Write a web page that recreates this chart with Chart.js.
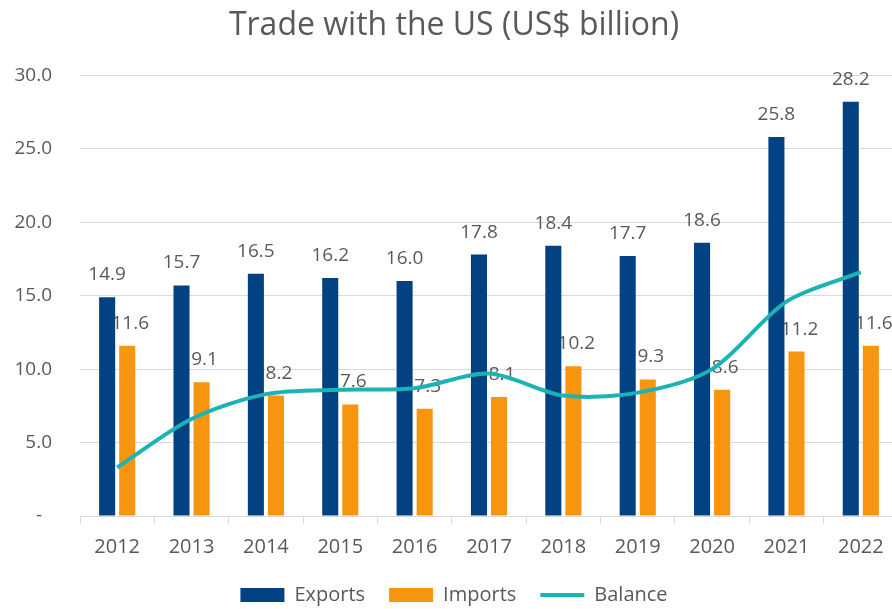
<!DOCTYPE html>
<html>
<head>
  <meta charset="utf-8">
  <title>Trade with the US</title>
  <script src="https://cdn.jsdelivr.net/npm/chart.js@4.4.1/dist/chart.umd.min.js"></script>
  <style>
    body { margin: 0; overflow: hidden; background: #fff; }
    #wrap { width: 898px; height: 609px; }
  </style>
</head>
<body>
  <div id="wrap"><canvas id="chart"></canvas></div>
  <script>
    // data
    var YEARS = ['2012', '2013', '2014', '2015', '2016', '2017', '2018', '2019', '2020', '2021', '2022'];
    var EXPORTS = [14.9, 15.7, 16.5, 16.2, 16.0, 17.8, 18.4, 17.7, 18.6, 25.8, 28.2];
    var IMPORTS = [11.6, 9.1, 8.2, 7.6, 7.3, 8.1, 10.2, 9.3, 8.6, 11.2, 11.6];
    var BALANCE = [3.3, 6.6, 8.3, 8.6, 8.7, 9.7, 8.2, 8.4, 10.0, 14.6, 16.6];

    var TEXT = '#595959',
        GRID = '#d9d9d9',
        FONT = '"Open Sans", "Noto Sans", sans-serif';

    // value labels above the bars, drawn under the marks
    var barLabels = {
      id: 'barLabels',
      beforeDatasetsDraw: function(chart) {
        var ctx = chart.ctx;
        ctx.save();
        ctx.font = '19px ' + FONT;
        ctx.fillStyle = TEXT;
        ctx.textAlign = 'center';
        ctx.textBaseline = 'alphabetic';
        chart.data.datasets.forEach(function(ds, i) {
          if (ds.type === 'line') return;
          var dx = i === 1 ? 3 : 0;
          chart.getDatasetMeta(i).data.forEach(function(bar, j) {
            ctx.fillText(ds.data[j].toFixed(1), bar.x + dx, bar.y - 17);
          });
        });
        ctx.restore();
      }
    };

    new Chart(document.getElementById('chart'), {
      type: 'bar',
      data: {
        labels: YEARS,
        datasets: [
          { label: 'Exports', data: EXPORTS, backgroundColor: '#024282', pointStyle: 'rect', order: 1 },
          { label: 'Imports', data: IMPORTS, backgroundColor: '#f7950f', pointStyle: 'rect', order: 1 },
          { type: 'line', label: 'Balance', data: BALANCE, borderColor: '#1bb3b6', backgroundColor: '#1bb3b6',
            borderWidth: 4, pointRadius: 0, pointStyle: 'line', tension: 0.3, order: 0 }
        ]
      },
      options: {
        responsive: true,
        maintainAspectRatio: false,
        animation: false,
        categoryPercentage: 0.54,
        barPercentage: 0.8,
        layout: { padding: { left: 10, right: 0, top: 0, bottom: -6 } },
        plugins: {
          title: {
            display: true,
            text: 'Trade with the US (US$ billion)',
            color: TEXT,
            font: { family: FONT, size: 32, weight: 'normal' },
            padding: { top: 7, bottom: 30 }
          },
          legend: {
            position: 'bottom',
            labels: {
              sort: function(a, b) { return a.datasetIndex - b.datasetIndex; },
              usePointStyle: true,
              pointStyleWidth: 44,
              boxHeight: 14,
              color: TEXT,
              padding: 24,
              font: { family: FONT, size: 20 }
            }
          },
          tooltip: { enabled: false }
        },
        scales: {
          x: {
            grid: { display: true, offset: true, drawOnChartArea: false, drawTicks: true, tickLength: 8, color: GRID },
            border: { display: true, color: GRID },
            ticks: { color: TEXT, padding: 11, font: { family: FONT, size: 20 } },
            afterFit: function(scale) { scale.height -= 9; }
          },
          y: {
            min: 0,
            max: 30,
            grid: { color: GRID, drawTicks: false },
            border: { display: false },
            afterFit: function(scale) { scale.width = 70; },
            ticks: {
              stepSize: 5,
              color: TEXT,
              padding: 28,
              font: { family: FONT, size: 19 },
              callback: function(v) { return v === 0 ? '-  ' : v.toFixed(1); }
            }
          }
        }
      },
      plugins: [barLabels]
    });
  </script>
</body>
</html>
